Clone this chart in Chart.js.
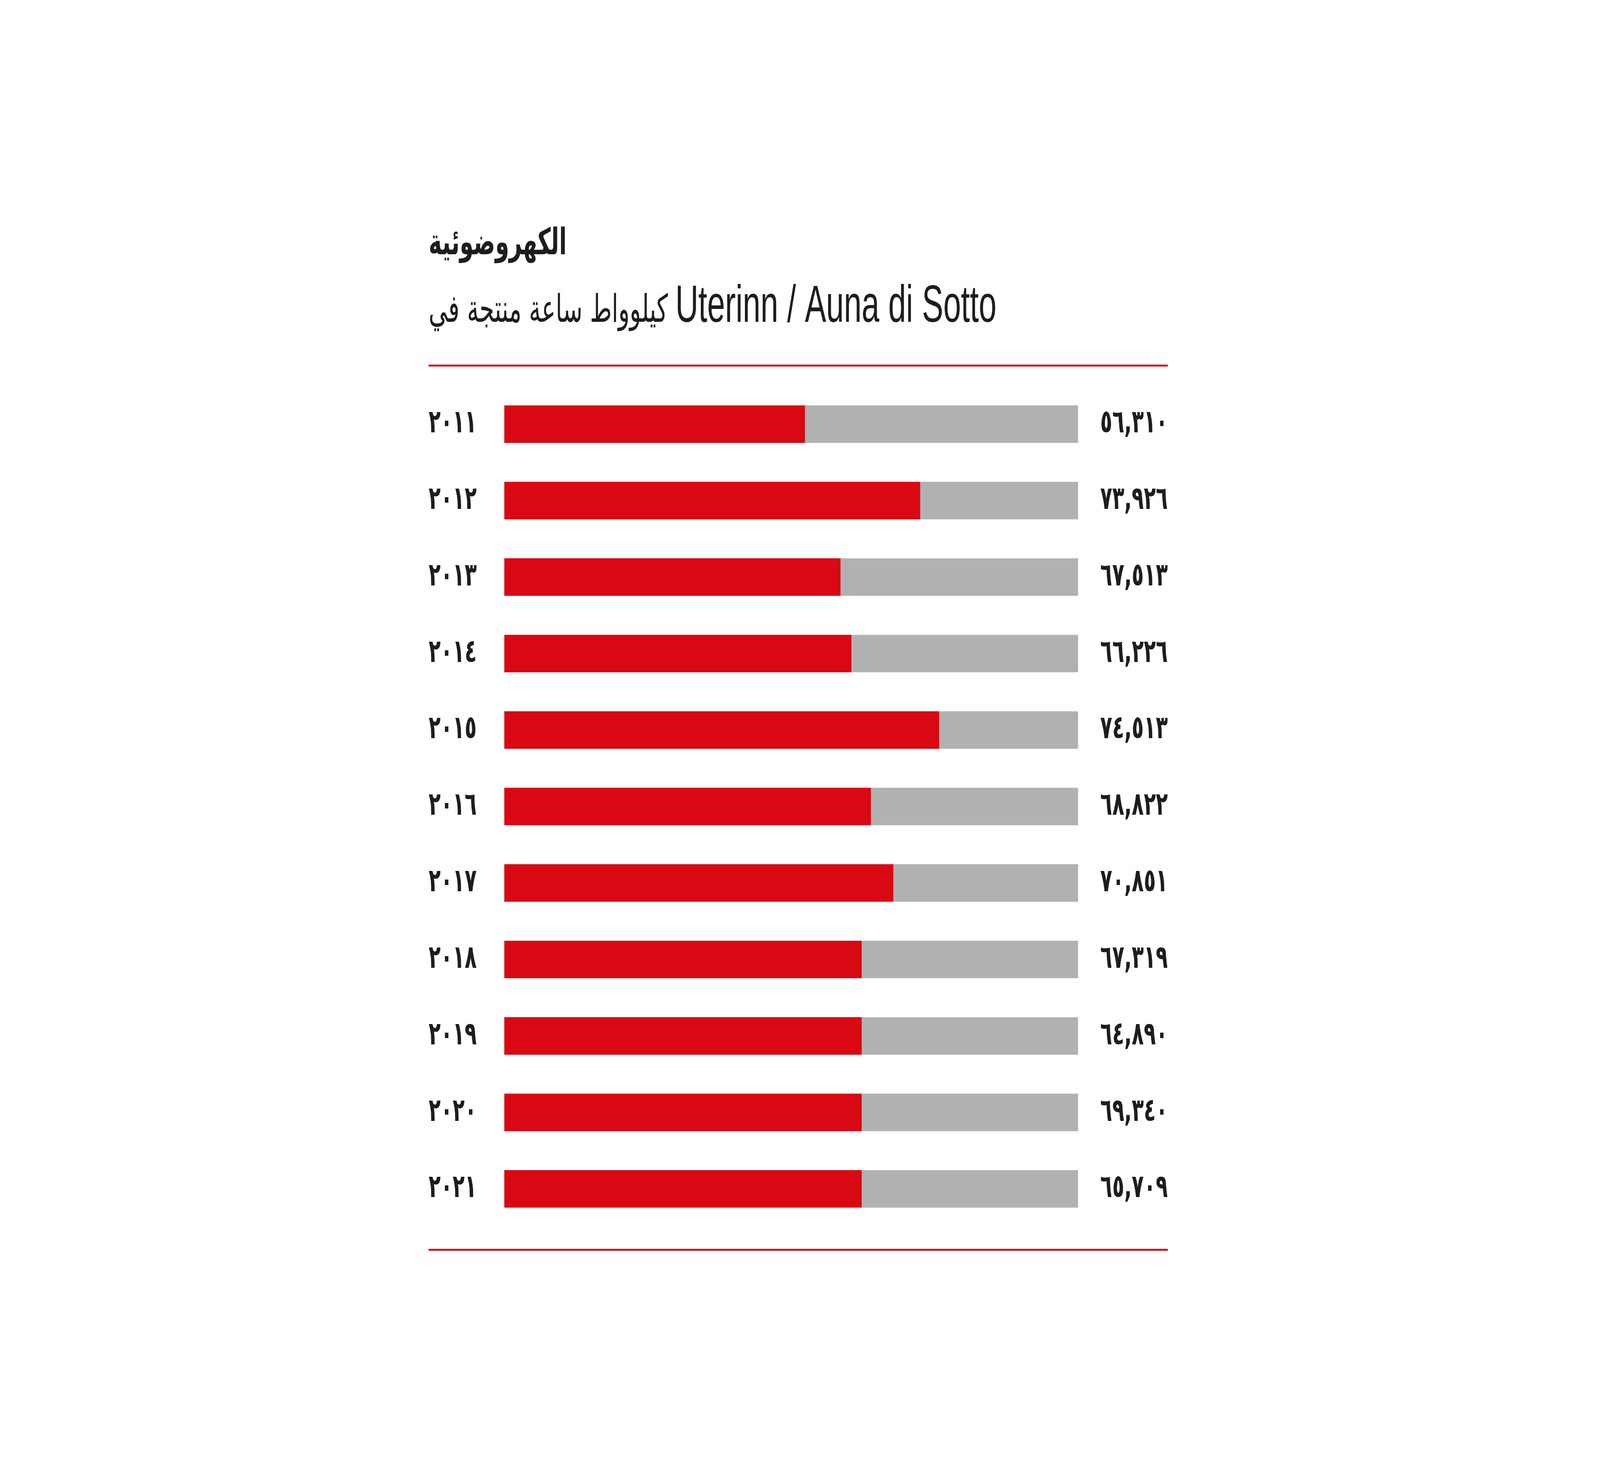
<!DOCTYPE html>
<html>
<head>
<meta charset="utf-8">
<script src="https://cdn.jsdelivr.net/npm/chart.js@4/dist/chart.umd.min.js"></script>
<style>
  html, body { margin: 0; padding: 0; background: #ffffff; overflow: hidden; }
  #wrap { width: 6667px; height: 3751px; position: absolute; left: 0; top: 0; transform-origin: 0 0; }
</style>
</head>
<body>
<div id="wrap"><canvas id="c"></canvas></div>
<script>
// ---- data ----
const yearLabels = ['٢٠١١','٢٠١٢','٢٠١٣','٢٠١٤','٢٠١٥','٢٠١٦','٢٠١٧','٢٠١٨','٢٠١٩','٢٠٢٠','٢٠٢١'];
const kwhValues = [56310, 73926, 67513, 66226, 74513, 68822, 70851, 67319, 64890, 69340, 65709];
// red bar length as share (%) of the grey track
const redShare = [52.4, 72.5, 58.6, 60.5, 75.8, 63.9, 67.8, 62.3, 62.3, 62.3, 62.3];
const trackValues = [100, 100, 100, 100, 100, 100, 100, 100, 100, 100, 100];
const titleMain = 'الكهروضوئية';
const titleSubArabic = 'كيلوواط ساعة منتجة في';
const titleSubLatin = 'Uterinn / Auna di Sotto';

const RED = '#d90812';
const GREY = '#b2b1b2';
const INK = '#1d1d1b';

// the chart is laid out on a 6667x3751 frame; fit that frame into the actual window
const wrap = document.getElementById('wrap');
const sx = (window.innerWidth || 6667) / 6667;
const sy = (window.innerHeight || 3751) / 3751;
wrap.style.transform = 'scale(' + sx + ',' + sy + ')';

const arDigits = ['٠','١','٢','٣','٤','٥','٦','٧','٨','٩'];
function toArabicNumber(v) {
  const s = String(v).replace(/\B(?=(\d{3})+(?!\d))/g, ',');
  return s.replace(/\d/g, d => arDigits[+d]);
}
const valueLabels = kwhValues.map(toArabicNumber);

const spacingPlugin = {
  id: 'spacing',
  beforeDraw(chart) { chart.ctx.letterSpacing = '10px'; },
  afterDraw(chart) { chart.ctx.letterSpacing = '0px'; }
};

const decorPlugin = {
  id: 'decor',
  afterDraw(chart) {
    const ctx = chart.ctx;
    const area = chart.chartArea;
    const left = chart.scales.y.left;
    const right = chart.scales.y2.right;
    ctx.save();
    ctx.letterSpacing = '0px';
    // red rules above and below the bars
    ctx.strokeStyle = RED;
    ctx.lineWidth = 5;
    ctx.beginPath();
    ctx.moveTo(left, area.top - 52);
    ctx.lineTo(right, area.top - 52);
    ctx.moveTo(left, area.bottom + 58);
    ctx.lineTo(right, area.bottom + 58);
    ctx.stroke();
    // two-line title
    ctx.fillStyle = INK;
    ctx.textBaseline = 'alphabetic';
    ctx.textAlign = 'left';
    ctx.direction = 'ltr';
    ctx.font = "bold 93px 'DejaVu Sans', sans-serif";
    ctx.fillText(titleMain, left, area.top - 337);
    ctx.font = "98px 'DejaVu Sans', sans-serif";
    ctx.fillText(titleSubArabic, left, area.top - 164);
    const w = ctx.measureText(titleSubArabic + ' ').width;
    ctx.font = "133px 'Liberation Sans', Arial, sans-serif";
    ctx.fillText(titleSubLatin, left + w, area.top - 164);
    ctx.restore();
  }
};

const tickFont = { family: "'DejaVu Sans', sans-serif", size: 82, weight: 'bold' };

new Chart(document.getElementById('c'), {
  type: 'bar',
  data: {
    labels: yearLabels,
    datasets: [
      {
        label: 'red',
        data: redShare,
        backgroundColor: RED,
        borderWidth: 0,
        grouped: false,
        order: 0,
        categoryPercentage: 1,
        barPercentage: 0.49,
        yAxisID: 'y'
      },
      {
        label: 'track',
        data: trackValues,
        backgroundColor: GREY,
        borderWidth: 0,
        grouped: false,
        order: 1,
        categoryPercentage: 1,
        barPercentage: 0.49,
        yAxisID: 'y'
      }
    ]
  },
  options: {
    indexAxis: 'y',
    responsive: true,
    maintainAspectRatio: false,
    animation: false,
    devicePixelRatio: 1,
    layout: { padding: { left: 1786, right: 1801, top: 988, bottom: 609 } },
    plugins: {
      legend: { display: false },
      tooltip: { enabled: false },
      title: { display: false }
    },
    scales: {
      x: { type: 'linear', min: 0, max: 100, display: false },
      y: {
        type: 'category',
        position: 'left',
        offset: true,
        grid: { display: false, drawTicks: false },
        border: { display: false },
        ticks: { crossAlign: 'far', padding: 0, color: INK, font: tickFont },
        afterFit(scale) { scale.width = 315; }
      },
      y2: {
        type: 'category',
        position: 'right',
        labels: valueLabels,
        offset: true,
        grid: { display: false, drawTicks: false },
        border: { display: false },
        ticks: { crossAlign: 'far', padding: 0, color: INK, font: tickFont },
        afterFit(scale) { scale.width = 374; }
      }
    }
  },
  plugins: [spacingPlugin, decorPlugin]
});
</script>
</body>
</html>
